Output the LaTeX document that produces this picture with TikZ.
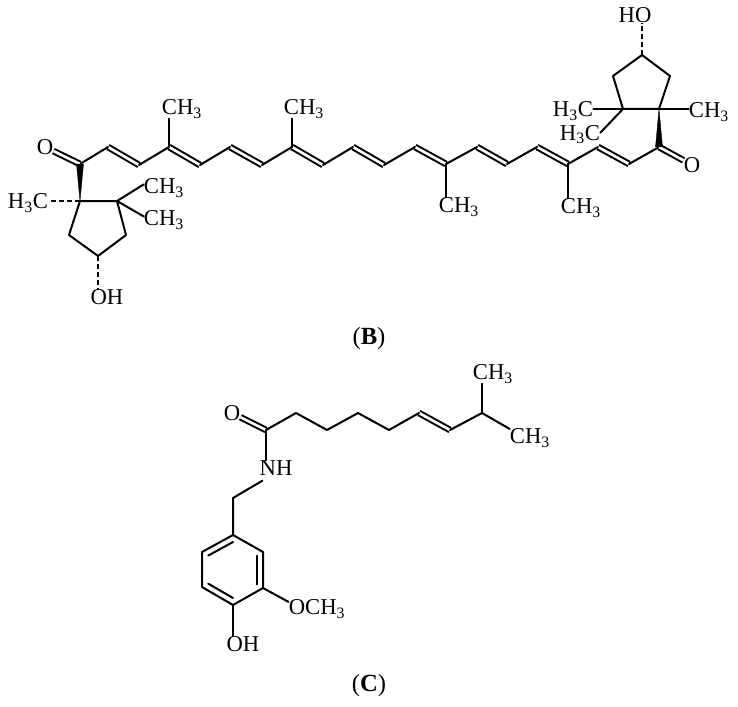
\documentclass[tikz,border=0pt]{standalone}
\usepackage{fontspec}
\setmainfont{Liberation Serif}
\usepackage{tikz}
\usetikzlibrary{calc}
\tikzset{
  atom/.style={inner sep=0pt, font=\fontsize{17}{20}\selectfont},
  panel/.style={inner sep=0pt, font=\fontsize{18.5}{22}\selectfont},
  bond/.style={line width=1.5pt, line cap=round, line join=round},
  dbl/.style={line width=1.5pt, double, double distance=2pt},
  hash/.style={line width=1.4pt, dash pattern=on 3.6pt off 2.4pt},
  wedge/.style={fill=black, draw=black, line width=0.3pt},
}
\begin{document}
\begin{tikzpicture}[x=0.75pt, y=-0.75pt]
\path[use as bounding box] (0, 0) rectangle (738, 706);

\coordinate (k1) at (80, 164);
\coordinate (a1) at (108, 147);
\coordinate (a2) at (139, 165);
\coordinate (a3) at (169, 147);
\coordinate (a4) at (200, 165);
\coordinate (a5) at (230, 147);
\coordinate (a6) at (262, 165);
\coordinate (a7) at (292, 147);
\coordinate (a8) at (323, 165);
\coordinate (a9) at (353, 147);
\coordinate (a10) at (384, 165);
\coordinate (a11) at (415, 147);
\coordinate (a12) at (446, 164);
\coordinate (a13) at (477, 147);
\coordinate (a14) at (507, 164);
\coordinate (a15) at (537, 147);
\coordinate (a16) at (568, 164);
\coordinate (a17) at (598, 147);
\coordinate (a18) at (629, 164);
\coordinate (k2) at (659, 147);

\path[draw, dbl] (a1) -- (a2);
\path[draw, dbl] (a3) -- (a4);
\path[draw, dbl] (a5) -- (a6);
\path[draw, dbl] (a7) -- (a8);
\path[draw, dbl] (a9) -- (a10);
\path[draw, dbl] (a11) -- (a12);
\path[draw, dbl] (a13) -- (a14);
\path[draw, dbl] (a15) -- (a16);
\path[draw, dbl] (a17) -- (a18);
\path[draw, bond] (k1) -- (a1);
\path[draw, bond] (a2) -- (a3);
\path[draw, bond] (a4) -- (a5);
\path[draw, bond] (a6) -- (a7);
\path[draw, bond] (a8) -- (a9);
\path[draw, bond] (a10) -- (a11);
\path[draw, bond] (a12) -- (a13);
\path[draw, bond] (a14) -- (a15);
\path[draw, bond] (a16) -- (a17);
\path[draw, bond] (a18) -- (k2);

\node[atom] (m1) at (182, 109) {CH\textsubscript{3}};
\node[atom] (m2) at (304, 109) {CH\textsubscript{3}};
\node[atom] (m3) at (459, 207) {CH\textsubscript{3}};
\node[atom] (m4) at (581, 208) {CH\textsubscript{3}};
\path[draw, bond] (a3) -- (a3 |- m1.south);
\path[draw, bond] (a7) -- (a7 |- m2.south);
\path[draw, bond] (a12) -- (a12 |- m3.north);
\path[draw, bond] (a16) -- (a16 |- m4.north);

\node[atom] (o1) at (45, 147) {O};
\coordinate (q1) at (80, 201);
\coordinate (q2) at (117, 201);
\coordinate (r1) at (126, 235);
\coordinate (r2) at (98, 256);
\coordinate (r3) at (69, 235);
\node[atom] (m5) at (28, 203) {H\textsubscript{3}C};
\node[atom] (m6) at (164, 188) {CH\textsubscript{3}};
\node[atom] (m7) at (164, 220) {CH\textsubscript{3}};
\node[atom] (oh1) at (107, 297) {OH};
\path[draw, dbl] (k1) -- (o1);
\path[draw, wedge] (q1) -- ($(k1)+(-3.5, 0)$) -- ($(k1)+(3.5, 0)$) -- cycle;
\path[draw, bond] (q1) -- (q2) -- (r1) -- (r2) -- (r3) -- (q1);
\path[draw, hash] (q1) -- (q1 -| m5.east);
\path[draw, bond] (q2) -- (m6.170);
\path[draw, bond] (q2) -- (m7.170);
\path[draw, hash] (r2) -- (r2 |- oh1.north);

\node[atom] (o2) at (692, 165) {O};
\coordinate (q3) at (659, 109);
\coordinate (q4) at (623, 109);
\coordinate (r4) at (613, 76);
\coordinate (r5) at (642, 55);
\coordinate (r6) at (670, 76);
\node[atom] (m8) at (709, 112) {CH\textsubscript{3}};
\node[atom] (m9) at (573, 111) {H\textsubscript{3}C};
\node[atom] (m10) at (580, 134.5) {H\textsubscript{3}C};
\node[atom] (oh2) at (635, 15) {HO};
\path[draw, dbl] (k2) -- (o2);
\path[draw, wedge] (q3) -- ($(k2)+(-3.5, 0)$) -- ($(k2)+(3.5, 0)$) -- cycle;
\path[draw, bond] (q3) -- (q4) -- (r4) -- (r5) -- (r6) -- (q3);
\path[draw, bond] (q3) -- (q3 -| m8.west);
\path[draw, bond] (q4) -- (q4 -| m9.east);
\path[draw, bond] (q4) -- (m10.5);
\path[draw, hash] (r5) -- (r5 |- oh2.south);

\node[panel] (lb) at (369, 339) {(\textbf{B})};

\node[atom] (o3) at (232, 413) {O};
\node[atom] (nh) at (276, 468) {NH};
\coordinate (c1) at (266, 430);
\coordinate (c2) at (296, 413);
\coordinate (c3) at (327, 430);
\coordinate (c4) at (358, 413);
\coordinate (c5) at (389, 430);
\coordinate (c6) at (419, 413);
\coordinate (c7) at (450, 430);
\coordinate (c8) at (482, 413);
\node[atom] (m11) at (493, 374) {CH\textsubscript{3}};
\node[atom] (m12) at (530, 438) {CH\textsubscript{3}};
\path[draw, dbl] (c1) -- (o3);
\path[draw, dbl] (c6) -- (c7);
\path[draw, bond] (c1) -- (c2) -- (c3) -- (c4) -- (c5) -- (c6);
\path[draw, bond] (c7) -- (c8);
\path[draw, bond] (c8) -- (c8 |- m11.south);
\path[draw, bond] (c8) -- (m12.156);
\path[draw, bond] (c1) -- (c1 |- nh.north);

\coordinate (ch) at (233, 498);
\coordinate (b1) at (233, 535);
\coordinate (b2) at (263, 552);
\coordinate (b3) at (263, 588);
\coordinate (b4) at (233, 605);
\coordinate (b5) at (202, 587);
\coordinate (b6) at (202, 552);
\coordinate (bc) at (233, 570);
\node[atom] (oh3) at (243, 644) {OH};
\node[atom] (me) at (317, 609) {OCH\textsubscript{3}};
\path[draw, bond] ($(nh.south west)+(3, 5)$) -- (ch) -- (b1);
\path[draw, bond] (b1) -- (b2) -- (b3) -- (b4) -- (b5) -- (b6) -- cycle;
\path[draw, bond] ($(b2)!0.2!(bc)$) -- ($(b3)!0.2!(bc)$);
\path[draw, bond] ($(b4)!0.2!(bc)$) -- ($(b5)!0.2!(bc)$);
\path[draw, bond] ($(b6)!0.2!(bc)$) -- ($(b1)!0.2!(bc)$);
\path[draw, bond] (b4) -- (b4 |- oh3.north);
\path[draw, bond] (b3) -- (me.166);

\node[panel] (lc) at (369, 686) {(\textbf{C})};

\end{tikzpicture}
\end{document}
